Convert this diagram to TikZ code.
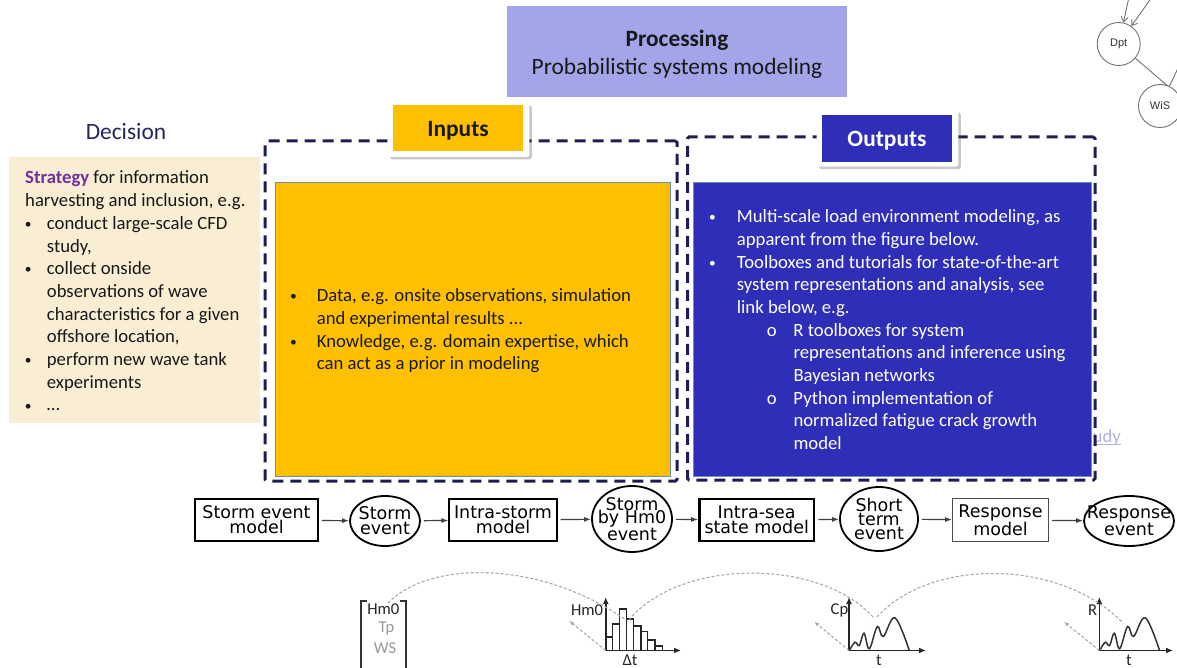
\documentclass[tikz,border=0pt]{standalone}
\usepackage{fontspec}
\setmainfont{Carlito}
\newfontfamily\pipefont{DejaVu Sans}
\newfontfamily\graphfont{Liberation Sans}
\usetikzlibrary{shapes.geometric,arrows.meta,shadows}

\definecolor{procfill}{RGB}{164,164,232}
\definecolor{decnavy}{RGB}{38,38,96}
\definecolor{strat}{RGB}{112,48,160}
\definecolor{parch}{RGB}{249,237,212}
\definecolor{framec}{RGB}{30,30,80}
\definecolor{ingold}{RGB}{255,192,0}
\definecolor{outblue}{RGB}{46,46,184}
\definecolor{edgec}{RGB}{110,140,190}
\definecolor{linkblue}{RGB}{176,176,240}
\definecolor{sketchgray}{RGB}{170,170,170}

% bullet helpers: \makebox[indent]{offset + centred mark}
\newcommand\smallbullet{\raisebox{0.8pt}{\scalebox{0.72}{\textbullet}}}
\newcommand\dbul{\makebox[21.7pt][l]{\hspace*{3pt}\makebox[0pt]{\smallbullet}}}
\newcommand\dind{\hspace*{21.7pt}}
\newcommand\ibul{\makebox[26.7pt][l]{\hspace*{3.3pt}\makebox[0pt]{\smallbullet}}}
\newcommand\iind{\hspace*{26.7pt}}
\newcommand\obul{\makebox[27.7pt][l]{\hspace*{3.3pt}\makebox[0pt]{\smallbullet}}}
\newcommand\oind{\hspace*{27.7pt}}
\newcommand\osub{\makebox[84.3pt][l]{\hspace*{62.7pt}\makebox[0pt]{o}}}
\newcommand\osind{\hspace*{84.3pt}}

\begin{document}
\begin{tikzpicture}[x=1pt,y=-1pt,
  every node/.style={inner sep=0pt},
  body/.style={font=\fontsize{18.7}{22.7}\selectfont},
  big/.style={font=\fontsize{23.4}{28}\selectfont},
  txt/.style={body, align=left, anchor=north west},
  frame/.style={draw=framec, line width=3pt, dash pattern=on 11pt off 7pt, rounded corners=1.5pt},
  panel/.style={draw=edgec, line width=0.8pt},
  tab/.style={fill=white, rounded corners=2.5pt,
    drop shadow={shadow xshift=2.5pt, shadow yshift=-2.5pt, opacity=.3, fill=black!70}},
  model/.style={rectangle, draw=black, line width=1.8pt, minimum height=42.5pt,
    font=\pipefont\fontsize{17.5}{15}\selectfont, align=center},
  event/.style={ellipse, draw=black, line width=1.8pt},
  evtext/.style={font=\pipefont\fontsize{17.5}{15}\selectfont, align=center},
  evtext3/.style={font=\pipefont\fontsize{17.5}{13.6}\selectfont, align=center},
  flow/.style={draw=black!75, line width=1.2pt, shorten <=3pt, -{Latex[length=7pt,width=5pt]}},
  gnode/.style={circle, draw=black!55, line width=0.9pt, minimum size=43pt,
    font=\graphfont\fontsize{11}{13}\selectfont, text=black!80},
  gedge/.style={draw=black!55, line width=0.9pt},
  axis/.style={draw=black!85, line width=1.6pt, -{Latex[length=7pt,width=6pt]}},
  hint/.style={draw=sketchgray, line width=1.1pt, dash pattern=on 3pt off 2pt},
  hintarrow/.style={hint, -{Latex[length=5pt,width=4pt]}},
  wave/.style={draw=black!80, line width=1.5pt},
  small/.style={font=\fontsize{16.6}{18}\selectfont},
  trace/.pic={\draw[wave] plot[smooth, tension=0.6] coordinates
    {(1,-1) (6,-8.3) (10.3,-5) (15,-17.3) (20.3,-1.7) (28.3,-24) (34.3,-14) (46,-32.7) (60.3,0)};}
]
\path[use as bounding box, fill=white] (0,0) rectangle (1177,668);

% ---------- processing header ----------
\node[fill=procfill, minimum width=340pt, minimum height=91pt,
  label={[big, align=center, text=black!90, yshift=-3pt]center:{\textbf{Processing}\\Probabilistic systems modeling}}]
  (proc) at (677,51.5) {};

% ---------- decision ----------
\node[big, text=decnavy] (declabel) at (126,131.5) {Decision};
\node[fill=parch, minimum width=251pt, minimum height=266pt] (decbox) at (134.5,290) {};
\node[txt, text=black!90] (dectxt) at (25,170.8) {\rule{0pt}{12pt}\textcolor{strat}{\textbf{Strategy}} for information\\
harvesting and inclusion, e.g.\\
\dbul conduct large-scale CFD\\
\dind study,\\
\dbul collect onside\\
\dind observations of wave\\
\dind characteristics for a given\\
\dind offshore location,\\
\dbul perform new wave tank\\
\dind experiments\\
\dbul …};

% ---------- inputs ----------
\node[frame, minimum width=412pt, minimum height=340pt] (inframe) at (471,311) {};
\node[fill=ingold, panel, minimum width=395pt, minimum height=294.4pt] (inbox) at (472.5,329.5) {};
\node[txt, text=black!90] (intxt) at (290,288.5) {\rule{0pt}{12pt}\ibul Data, e.g. onsite observations, simulation\\
\iind and experimental results ...\\
\ibul Knowledge, e.g. domain expertise, which\\
\iind can act as a prior in modeling};
\node[tab, minimum width=141.6pt, minimum height=54pt] (intab) at (458.5,130) {};
\node[fill=ingold, minimum width=130.6pt, minimum height=46pt,
  label={[big, text=black!90, yshift=-2.5pt]center:\textbf{Inputs}}]
  (inlabel) at (458,128) {};

% ---------- outputs ----------
\node[body, text=linkblue, anchor=base west] (udy) at (1092.5,442) {udy};
\draw[linkblue, line width=0.9pt] ([yshift=-2pt]udy.base west) -- ([yshift=-2pt]udy.base east);
\node[fill=outblue, panel, minimum width=398pt, minimum height=294.2pt] (outbox) at (892.5,329.6) {};
\node[frame, minimum width=407.5pt, minimum height=343pt] (outframe) at (891.25,308.5) {};
\node[txt, text=white] (outtxt) at (709,209.5) {\rule{0pt}{12pt}\obul Multi-scale load environment modeling, as\\
\oind apparent from the figure below.\\
\obul Toolboxes and tutorials for state-of-the-art\\
\oind system representations and analysis, see\\
\oind link below, e.g.\\
\osub R toolboxes for system\\
\osind representations and inference using\\
\osind Bayesian networks\\
\osub Python implementation of\\
\osind normalized fatigue crack growth\\
\osind model};
\node[tab, minimum width=141.6pt, minimum height=56.7pt] (outtab) at (887.5,138.3) {};
\node[fill=outblue, minimum width=130.6pt, minimum height=46.7pt,
  label={[big, text=white, yshift=-2.5pt]center:\textbf{Outputs}}]
  (outlabel) at (887,138.3) {};

% ---------- network fragment ----------
\node[gnode, fill=white] (dpt) at (1118.7,44) {Dpt};
\coordinate (din1) at (1129,-3);
\coordinate (din2) at (1152,-3);
\coordinate (dout) at (1190,105);
\coordinate (win) at (1179,66);
\draw[gedge, -{Straight Barb[length=5pt,width=7pt]}] (din1) -- (dpt);
\draw[gedge, -{Straight Barb[length=5pt,width=7pt]}] (din2) -- (dpt);
\draw[gedge] (dpt) -- (dout);
\node[gnode, fill=white] (wis) at (1160,106) {WiS};
\draw[gedge] (win) -- (wis);

% ---------- model chain ----------
\node[model, minimum width=123pt] (m1) at (256.5,520) {Storm event\\model};
\node[event, minimum width=70pt, minimum height=50pt,
  label={[evtext]center:{Storm\\event}}] (e1) at (385,521) {};
\node[model, minimum width=107.4pt] (m2) at (503,520) {Intra-storm\\model};
\node[event, minimum width=80pt, minimum height=66pt,
  label={[evtext3]center:{Storm\\by Hm0\\event}}] (e2) at (632,519) {};
\node[model, line width=2.4pt, minimum width=114.7pt] (m3) at (756.7,520) {Intra-sea\\state model};
\node[event, minimum width=78pt, minimum height=64pt,
  label={[evtext3]center:{Short\\term\\event}}] (e3) at (879,519) {};
\node[model, draw=black!70, line width=1.4pt, minimum width=95.6pt] (m4) at (1000.5,520) {Response\\model};
\node[event, minimum width=90pt, minimum height=50pt,
  label={[evtext]center:{Response\\event}}] (e4) at (1129,521) {};
\draw[flow] (m1) -- (e1);
\draw[flow] (e1) -- (m2);
\draw[flow] (m2) -- (e2);
\draw[flow] (e2) -- (m3);
\draw[flow] (m3) -- (e3);
\draw[flow] (e3) -- (m4);
\draw[flow] (m4) -- (e4);

% ---------- sketches below the chain ----------
% state vector
\draw[draw=black!80, line width=1.8pt] (366.7,600.7) -| (360.7,670);
\draw[draw=black!80, line width=1.8pt] (400,600.7) -| (405.7,670);
\node[small, text=black!85] (vhm) at (383.3,609) {Hm0};
\node[small, text=black!40] (vtp) at (386.5,629) {Tp};
\node[small, text=black!40] (vws) at (385,648) {WS};

% histogram
\coordinate (h0) at (605.7,650.5);
\coordinate (hy) at (605.7,597);
\coordinate (hx) at (681,650.5);
\foreach \xa/\xb/\yt in {605.7/612.7/637, 612.7/619.3/624, 619.3/626.7/609, 626.7/633.3/619,
    633.3/641/626, 641/647.3/631.7, 647.3/655/640, 655/662.7/646}
  \draw[black!85, line width=1.2pt] (\xa,650.5) rectangle (\xb,\yt);
\draw[axis] (h0) -- (hy);
\draw[axis] (h0) -- (hx);
\node[small, text=black!85] (hlab) at (587,610) {Hm0};
\node[small, text=black!85] (hdt) at (630,660) {Δt};

% short-term trace
\coordinate (c0) at (849,650.5);
\coordinate (cy) at (849,597);
\coordinate (cx) at (926,650.5);
\pic at (c0) {trace};
\draw[axis] (c0) -- (cy);
\draw[axis] (c0) -- (cx);
\node[small, text=black!85] (clab) at (839.5,610) {Cp};
\node[small, text=black!85] (ct) at (879,660) {t};

% response trace
\coordinate (r0) at (1099.3,650.5);
\coordinate (ry) at (1099.3,597);
\coordinate (rx) at (1173,650.5);
\pic at (r0) {trace};
\draw[axis] (r0) -- (ry);
\draw[axis] (r0) -- (rx);
\node[small, text=black!85] (rlab) at (1092.5,610) {R};
\node[small, text=black!85] (rt) at (1129,660) {t};

% dashed links between the sketches
\coordinate (a0) at (388,603);
\coordinate (a1) at (626,620);
\coordinate (a2) at (629,620);
\coordinate (a3) at (873,617);
\coordinate (a4) at (877,617);
\coordinate (a5) at (1123,623);
\draw[hint] (a0) .. controls (430,560) and (540,560) .. (a1);
\draw[hint] (a2) .. controls (680,558) and (820,558) .. (a3);
\draw[hint] (a4) .. controls (930,558) and (1060,558) .. (a5);
\coordinate (p1) at (569,620.7);
\coordinate (p2) at (814.3,621.7);
\coordinate (p3) at (1064,621.7);
\draw[hintarrow] (h0) -- (p1);
\draw[hintarrow] (c0) -- (p2);
\draw[hintarrow] (r0) -- (p3);
\end{tikzpicture}
\end{document}
